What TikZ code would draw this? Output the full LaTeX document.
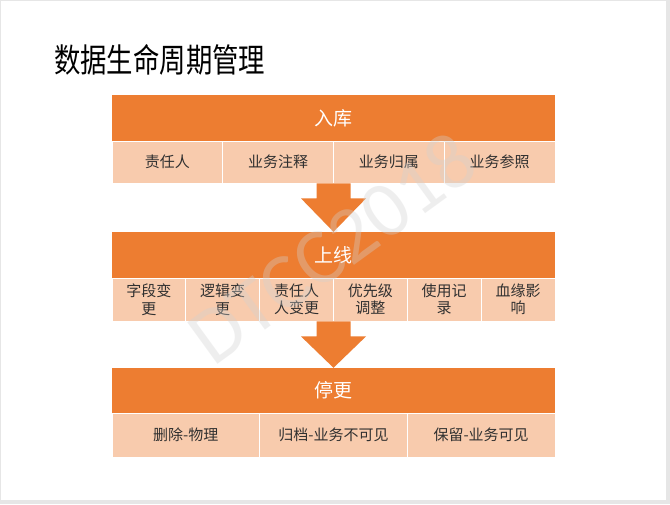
\documentclass[tikz,border=0pt]{standalone}
\usepackage{fontspec}
\usepackage{graphicx}
\setmainfont{Noto Sans CJK SC}
\newfontfamily\cjk{Noto Sans CJK SC}
\newfontfamily\wmfont{Carlito}
\usetikzlibrary{calc}
\definecolor{accent}{HTML}{ED7D31}
\definecolor{lightacc}{HTML}{F8CBAD}
\definecolor{celltext}{HTML}{303030}
\definecolor{pagegray}{HTML}{E6E6E6}
\tikzset{
  hdr/.style={rectangle, fill=accent, inner sep=0pt, minimum width=443pt,
    text=white, font=\cjk\fontsize{19}{22}\selectfont},
  cell/.style={rectangle, fill=lightacc, draw=white, line width=0.8pt, inner sep=0pt,
    text=celltext, align=center, font=\cjk\fontsize{15}{17.5}\selectfont},
  flowarrow/.style={fill=accent},
}
\newcommand\downflow[2]{%
  \fill[flowarrow] ($(#1)+(-17,0)$) -- ($(#1)+(17,0)$) -- ($(#1)+(17,15)$) --
    ($(#1)+(32.5,15)$) -- (#2) -- ($(#1)+(-32.5,15)$) -- ($(#1)+(-17,15)$) -- cycle;}
\begin{document}
\begin{tikzpicture}[x=1pt,y=-1pt]
\useasboundingbox (0,0) rectangle (670,504);
\fill[pagegray] (0,0) rectangle (670,504);
\fill[white] (1,1) rectangle (666,500);

\node[anchor=west, inner sep=0pt, text=black] (title) at (54,60)
  {\scalebox{0.8}[1]{\cjk\fontsize{33}{36}\selectfont 数据生命周期管理}};

% box 1
\node[hdr, minimum height=46pt] (h1) at (333.5,118) {入库};
\foreach \i/\t [count=\k] in {0/责任人,1/业务注释,2/业务归属,3/业务参照}{
  \node[cell, minimum width=110.75pt, minimum height=42pt] (c1\k) at ({167.4+110.75*\i},162) {\t};
}
% box 2
\node[hdr, minimum height=46pt] (h2) at (333.5,255) {上线};
\foreach \i/\t [count=\k] in {0/字段变\\更,1/逻辑变\\更,2/责任人\\人变更,3/优先级\\调整,4/使用记\\录,5/血缘影\\响}{
  \node[cell, minimum width=73.83pt, minimum height=43pt] (c2\k) at ({148.9+73.83*\i},299.5) {\t};
}
% box 3
\node[hdr, minimum height=45pt] (h3) at (333.5,390.5) {停更};
\foreach \i/\t [count=\k] in {0/删除-物理,1/归档-业务不可见,2/保留-业务可见}{
  \node[cell, minimum width=147.67pt, minimum height=44pt] (c3\k) at ({185.8+147.67*\i},435) {\t};
}

% arrows
\coordinate (a1) at (h1.south |- c11.south);
\coordinate (a2) at (h2.south |- c21.south);
\downflow{a1}{h2.north}
\downflow{a2}{h3.north}

% watermark
\node[rotate=36, text=black!18, opacity=0.35, font=\wmfont\fontsize{80}{80}\selectfont] (wm) at (332,248) {DTCC2018};
\end{tikzpicture}
\end{document}
